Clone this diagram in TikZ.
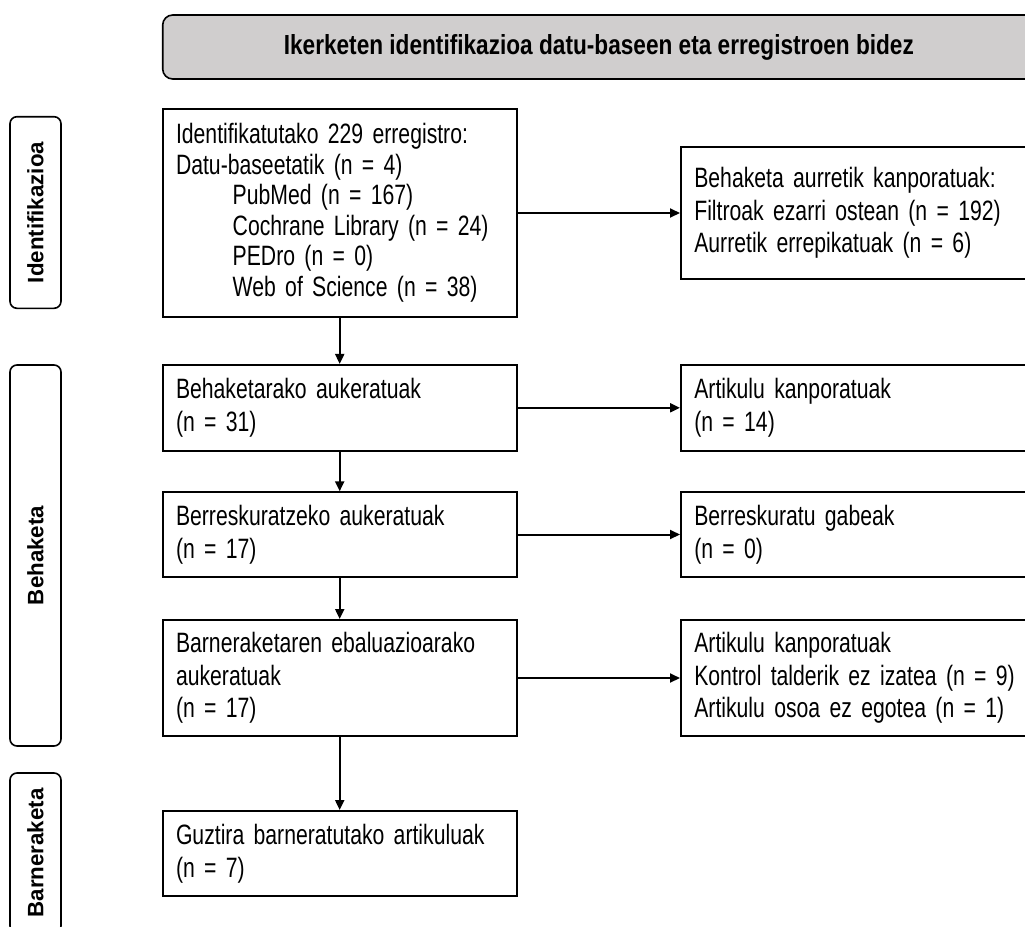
\documentclass[tikz,border=0pt]{standalone}
\usepackage{fontspec}
\setmainfont{Liberation Sans}[FakeStretch=0.757]
\newfontfamily\hdrfam{Liberation Sans}[FakeStretch=0.82]
\newfontfamily\widefont{Liberation Sans}
\usetikzlibrary{arrows.meta}
\definecolor{hdrgray}{RGB}{208,206,206}
\newcommand{\boxfont}[1]{\fontsize{28}{#1}\selectfont}
\newcommand{\hdrfont}{\hdrfam\bfseries\fontsize{27.6}{30}\selectfont}
\begin{document}
\begin{tikzpicture}[x=1pt,y=-1pt,
  box/.style={draw=black, line width=2pt, rectangle, minimum width=354pt,
    text width=327.4pt, inner xsep=13.3pt, inner ysep=0pt, align=left,
    font=\boxfont{32.5}},
  rbox/.style={box, text width=330pt, minimum width=356.6pt},
  sidelabel/.style={draw=black, line width=1.6pt, rounded corners=7pt, rectangle,
    rotate=90, minimum height=51pt, inner sep=0pt,
    font=\widefont\bfseries\fontsize{22.3}{26}\selectfont},
  header/.style={draw=black, line width=1.6pt, rounded corners=10pt, fill=hdrgray,
    minimum width=872.3pt, minimum height=64pt, inner sep=0pt,
    font=\hdrfont},
  arr/.style={line width=2pt, -{Triangle[length=10pt,width=9pt]}}
]
\useasboundingbox (0,0) rectangle (1025,926);

% header
\node[header] (hdr) at (598.85,47) {Ikerketen identifikazioa datu-baseen eta erregistroen bidez};

% side labels
\node[sidelabel, minimum width=191.6pt] (l1) at (35.5,212.5) {Identifikazioa};
\node[sidelabel, minimum width=381pt] (l2) at (35.5,555.5) {Behaketa};
\node[sidelabel, minimum width=160pt] (l3) at (35.5,853) {Barneraketa};

% main column
\node[box, minimum height=207.4pt, font=\boxfont{30.5}] (b1) at (339.7,213)
  {Identifikatutako 229 erregistro:\\
   Datu-baseetatik (n = 4)\\
   \hspace*{56.7pt}PubMed (n = 167)\\
   \hspace*{56.7pt}Cochrane Library (n = 24)\\
   \hspace*{56.7pt}PEDro (n = 0)\\
   \hspace*{56.7pt}Web of Science (n = 38)};
\node[box, minimum height=85.7pt] (b2) at (339.7,407.8)
  {Behaketarako aukeratuak\\(n = 31)};
\node[box, minimum height=84.4pt] (b3) at (339.7,534.5)
  {Berreskuratzeko aukeratuak\\(n = 17)};
\node[box, minimum height=116pt] (b4) at (339.7,678)
  {Barneraketaren ebaluazioarako\\aukeratuak\\(n = 17)};
\node[box, minimum height=85pt] (b5) at (339.7,853.5)
  {Guztira barneratutako artikuluak\\(n = 7)};

% right column
\node[rbox, minimum height=132pt] (r1) at (859.3,213)
  {Behaketa aurretik kanporatuak:\\Filtroak ezarri ostean (n = 192)\\Aurretik errepikatuak (n = 6)};
\node[rbox, minimum height=85.7pt] (r2) at (859.3,407.8)
  {Artikulu kanporatuak\\(n = 14)};
\node[rbox, minimum height=85.4pt] (r3) at (859.3,534.5)
  {Berreskuratu gabeak\\(n = 0)};
\node[rbox, minimum height=116.7pt] (r4) at (859.3,678)
  {Artikulu kanporatuak\\Kontrol talderik ez izatea (n = 9)\\Artikulu osoa ez egotea (n = 1)};

% connectors
\draw[arr] (b1) -- (b2);
\draw[arr] (b2) -- (b3);
\draw[arr] (b3) -- (b4);
\draw[arr] (b4) -- (b5);
\draw[arr] (b1) -- (r1);
\draw[arr] (b2) -- (r2);
\draw[arr] (b3) -- (r3);
\draw[arr] (b4) -- (r4);
\end{tikzpicture}
\end{document}
